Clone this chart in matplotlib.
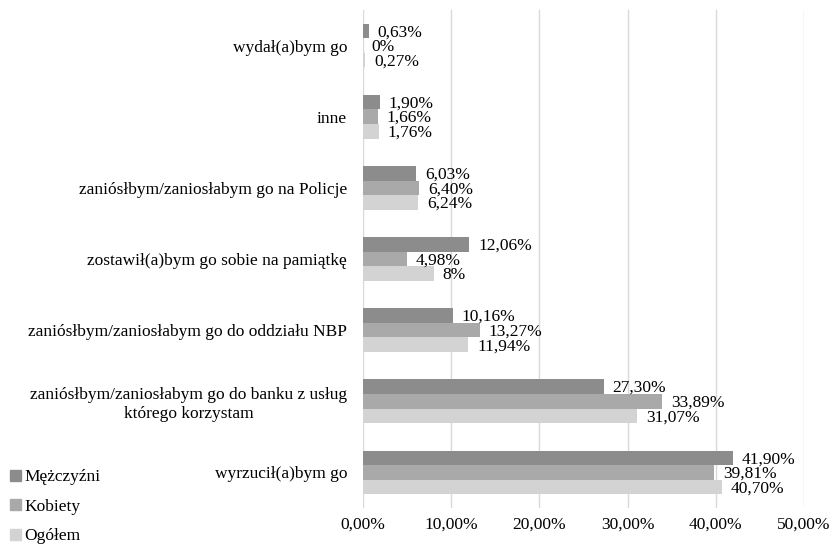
import matplotlib
matplotlib.use("Agg")
import matplotlib.pyplot as plt
import numpy as np

plt.rcParams['font.family'] = ['Liberation Serif', 'DejaVu Serif']

categories = [
    "wyrzucił(a)bym go",
    "zaniósłbym/zaniosłabym go do banku z usług\nktórego korzystam",
    "zaniósłbym/zaniosłabym go do oddziału NBP",
    "zostawił(a)bym go sobie na pamiątkę",
    "zaniósłbym/zaniosłabym go na Policje",
    "inne",
    "wydał(a)bym go",
]
series_names = ["Mężczyźni", "Kobiety", "Ogółem"]
men = [41.90, 27.30, 10.16, 12.06, 6.03, 1.90, 0.63]
women = [39.81, 33.89, 13.27, 4.98, 6.40, 1.66, 0.0]
total = [40.70, 31.07, 11.94, 8.0, 6.24, 1.76, 0.27]
men_labels = ["41,90%", "27,30%", "10,16%", "12,06%", "6,03%", "1,90%", "0,63%"]
women_labels = ["39,81%", "33,89%", "13,27%", "4,98%", "6,40%", "1,66%", "0%"]
total_labels = ["40,70%", "31,07%", "11,94%", "8%", "6,24%", "1,76%", "0,27%"]
xticks = [0, 10, 20, 30, 40, 50]
xtick_labels = ["0,00%", "10,00%", "20,00%", "30,00%", "40,00%", "50,00%"]
colors = ["#8c8c8c", "#a9a9a9", "#d3d3d3"]

FS = 12.5

fig = plt.figure(figsize=(8.34, 5.45), dpi=100)
ax = fig.add_axes([363/834, 1-508/545, (804-363)/834, (508-10)/545])

y = np.arange(len(categories))
h = 0.205
data = [men, women, total]
labels = [men_labels, women_labels, total_labels]
for k, (vals, labs, c, name) in enumerate(zip(data, labels, colors, series_names)):
    pos = y + (1 - k) * h
    ax.barh(pos, vals, height=h, color=c, label=name, zorder=3)
    for p, v, t in zip(pos, vals, labs):
        ax.text(v + 1.0, p - 0.02, t, va='center', ha='left', fontsize=FS, zorder=4)

ax.set_ylim(-0.5, len(categories) - 0.5)
ax.set_xlim(0, 50)
ax.set_yticks(y)
ax.set_yticklabels(categories, fontsize=FS, multialignment='center')
ax.set_xticks(xticks)
ax.set_xticklabels(xtick_labels, fontsize=FS)
ax.tick_params(axis='y', length=0, pad=11.5)
ax.tick_params(axis='x', length=0, pad=6)
ax.grid(axis='x', color='#d9d9d9', linewidth=1, zorder=0)
for s in ax.spines.values():
    s.set_visible(False)

handles = [plt.Rectangle((0, 0), 1, 1, color=c) for c in colors]
fig.legend(handles, series_names, loc='lower left', bbox_to_anchor=(0.0, -0.018),
           frameon=False, fontsize=FS, handlelength=0.6, handleheight=0.6,
           handletextpad=0.2, labelspacing=0.78, borderaxespad=0.2)

fig.savefig("out.png", dpi=100)
